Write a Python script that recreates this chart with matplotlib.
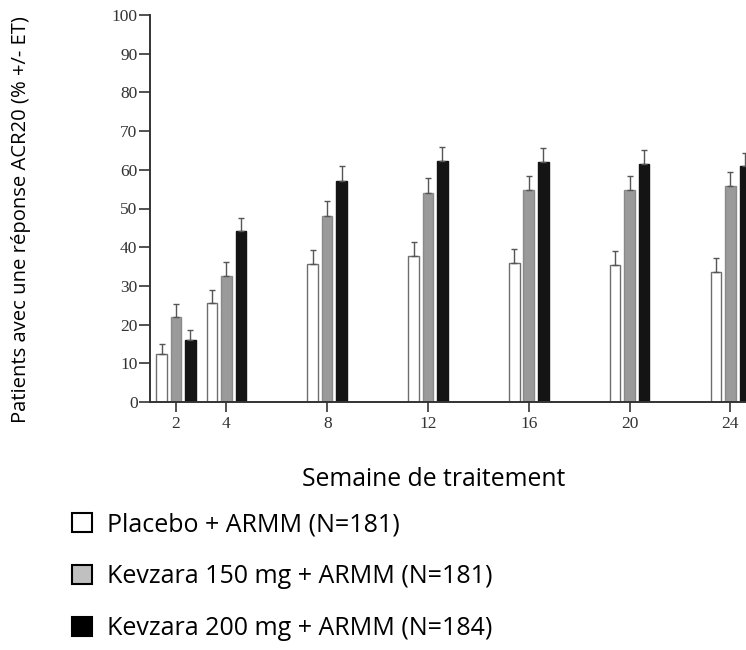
import numpy as np
import matplotlib
matplotlib.use("Agg")
import matplotlib.pyplot as plt
from matplotlib.patches import Patch

# semaines de traitement
weeks = [2, 4, 8, 12, 16, 20, 24]
week_labels = ["2", "4", "8", "12", "16", "20", "24"]

# % de patients ACR20 et erreur type (+)
placebo = [12.4, 25.5, 35.6, 37.7, 36.0, 35.5, 33.6]
placebo_err = [2.5, 3.4, 3.7, 3.6, 3.5, 3.6, 3.6]
kev150 = [22.0, 32.6, 48.1, 54.1, 54.8, 54.8, 55.9]
kev150_err = [3.3, 3.5, 3.8, 3.8, 3.6, 3.6, 3.5]
kev200 = [16.0, 44.2, 57.0, 62.4, 62.1, 61.4, 61.1]
kev200_err = [2.6, 3.4, 4.0, 3.6, 3.5, 3.7, 3.3]

series_labels = ["Placebo + ARMM (N=181)",
                 "Kevzara 150 mg + ARMM (N=181)",
                 "Kevzara 200 mg + ARMM (N=184)"]

W, H = 746, 650
fig = plt.figure(figsize=(W / 100, H / 100), dpi=100)
ax = fig.add_axes([150 / W, (H - 402) / H, 1 - 150 / W, (402 - 15) / H])

x = np.array(weeks, dtype=float)
off = 0.575
bw = 0.42
styles = [
    dict(color="white", edgecolor="#6e6e6e"),
    dict(color="#9a9a9a", edgecolor="#8a8a8a"),
    dict(color="#141414", edgecolor="#141414"),
]
data = [(placebo, placebo_err), (kev150, kev150_err), (kev200, kev200_err)]
for i, ((vals, errs), st) in enumerate(zip(data, styles)):
    xi = x + (i - 1) * off
    ax.bar(xi, vals, width=bw, linewidth=1.0, zorder=2, **st)
    ax.errorbar(xi, vals, yerr=[np.zeros(len(errs)), errs], fmt="none",
                ecolor="#555555", elinewidth=1.0, capsize=2.2, capthick=1.0,
                zorder=3)

ax.set_xlim(0.968, 24.62)
ax.set_ylim(0, 100)
ax.set_xticks(weeks)
ax.set_xticklabels(week_labels)
ax.set_yticks(np.arange(0, 101, 10))

for s in ["top", "right"]:
    ax.spines[s].set_visible(False)
for s in ["left", "bottom"]:
    ax.spines[s].set_color("#333333")
    ax.spines[s].set_linewidth(1.4)

ax.tick_params(axis="y", length=8, width=1.2, color="#333333", pad=1)
ax.tick_params(axis="x", length=7, width=1.2, color="#333333", pad=3)
for lab in ax.get_xticklabels() + ax.get_yticklabels():
    lab.set_fontfamily("Liberation Serif")
    lab.set_fontsize(12.5)
    lab.set_color("#333333")

sans = "Open Sans"
fig.text(21 / W, 1 - 220 / H, "Patients avec une réponse ACR20 (% +/- ET)",
         rotation=90, ha="center", va="center", fontsize=14.6, family=sans)
fig.text(434 / W, 1 - 479 / H, "Semaine de traitement",
         ha="center", va="center", fontsize=17.8, family=sans)

handles = [Patch(facecolor="white", edgecolor="black", linewidth=1.5),
           Patch(facecolor="#c0c0c0", edgecolor="black", linewidth=1.5),
           Patch(facecolor="black", edgecolor="black", linewidth=1.5)]
fig.legend(handles, series_labels, loc="upper left",
           bbox_to_anchor=(72 / W, 1 - 512 / H), frameon=False,
           prop={"family": sans, "size": 18},
           handlelength=0.8, handleheight=0.8, handletextpad=0.6,
           labelspacing=1.08, borderaxespad=0, borderpad=0)

fig.savefig("out.png", dpi=100)
